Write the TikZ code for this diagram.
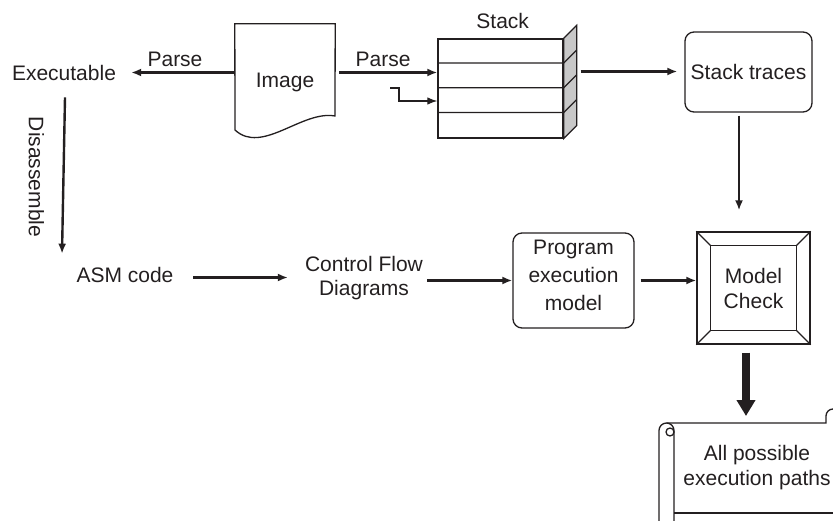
\documentclass[tikz,border=0pt]{standalone}
\usepackage{fontspec}
\setmainfont{Liberation Sans}
\usetikzlibrary{arrows.meta}
\definecolor{ink}{HTML}{231F20}
\definecolor{sidegray}{HTML}{C8C8C8}
\begin{document}
\begin{tikzpicture}[x=1pt,y=1pt,
  txt/.style={font=\fontsize{21}{25}\selectfont, text=ink, inner sep=2pt, align=center},
  box/.style={draw=ink, line width=1.3pt},
  arr/.style={draw=ink, line width=2.4pt, -{Latex[length=10pt,width=8pt]}},
  thinarr/.style={draw=ink, line width=1.2pt, -{Latex[length=10pt,width=7.5pt]}},
  bigarr/.style={draw=ink, line width=8pt, -{Triangle[length=16pt,width=18pt]}},
  rbox/.style={box, rounded corners=9pt, inner sep=0pt},
]
\useasboundingbox (0,0) rectangle (833,-521);
\clip (0,0) rectangle (833,-521);

% ---- top row: image, executable, stack, stack traces
\node[txt] (exe) at (64,-72.5) {Executable};

\node[minimum width=100pt, minimum height=106pt, inner sep=0pt] (img) at (285,-77) {};
\draw[box] (img.north west) -- (img.north east) -- (335,-116)
  .. controls (302,-110) and (262,-155) .. (235,-130) -- cycle;
\node[txt] (imglabel) at (285,-82) {Image};

\node[box, minimum width=125pt, minimum height=99pt, inner sep=0pt] (stack) at (500.5,-88.5) {};
\filldraw[box, fill=sidegray] (stack.north east) -- ++(13,13)
  -- ([shift={(13pt,13pt)}]stack.south east) -- (stack.south east) -- cycle;
\foreach \k in {1,2,3}{
  \draw[box] ([yshift=-\k*24.75pt]stack.north west) -- ([yshift=-\k*24.75pt]stack.north east) -- ++(13,13);
}
\node[txt] (stacklabel) at (502.7,-21) {Stack};

\node[rbox, txt, inner sep=0pt, minimum width=127pt, minimum height=80pt] (st) at (748.5,-72) {Stack traces};

% parse arrows
\draw[arr, shorten >=13pt] (img.west |- exe.east) -- (exe.east);
\node[txt] (parse1) at (175,-59) {Parse};
\draw[arr, shorten <=4pt] (img.east |- 0,-72.5) -- ([yshift=16pt]stack.west);
\node[txt] (parse2) at (383,-59) {Parse};

\coordinate (feed) at (390,-88);
\draw[thinarr] (feed) -- ++(9,0) |- ([yshift=-12.5pt]stack.west);

\coordinate (sidegap) at ([xshift=17pt,yshift=17pt]stack.east);
\draw[arr, shorten >=7pt] (sidegap) -- (st.west |- sidegap);

% ---- lower row
\node[txt] (asm) at (125,-275) {ASM code};
\node[txt, font=\fontsize{21}{24.5}\selectfont] (cfd) at (364,-278) {Control Flow\\Diagrams};

\node[rbox, minimum width=121pt, minimum height=95pt] (pem) at (573.5,-280.5) {};
\node[txt, font=\fontsize{21}{28}\selectfont] (pemtext) at (573.5,-275.5) {Program\\execution\\model};

\node[box, txt, inner sep=0pt, minimum width=113pt, minimum height=112pt] (mc) at (753.5,-288) {Model\\Check};
\draw[box] ([shift={(14pt,-14pt)}]mc.north west) rectangle ([shift={(-14pt,14pt)}]mc.south east);
\draw[box] (mc.north west) -- ++(14,-14);
\draw[box] (mc.north east) -- ++(-14,-14);
\draw[box] (mc.south west) -- ++(14,14);
\draw[box] (mc.south east) -- ++(-14,14);

% disassemble
\draw[arr] ([shift={(1pt,-15pt)}]exe.south) -- ([shift={(-63pt,11.4pt)}]asm.north);
\node[txt, rotate=-90] (dislabel) at (36.5,-177) {Disassemble};

\draw[arr, shorten <=17.5pt, shorten >=15pt] ([yshift=-2.5pt]asm.east) -- ([yshift=-2.5pt]asm.east -| cfd.west);
\draw[arr, shorten <=2pt] (cfd.east |- pem.west) -- (pem.west);
\draw[arr, shorten <=6pt] (pem.east) -- (mc.west |- pem.east);
\draw[arr, shorten >=24pt] ([shift={(-9.5pt,-3pt)}]st.south) -- ([shift={(-9.5pt,-3pt)}]st.south |- mc.north);

% ---- result scroll
\coordinate (scrolltop) at (746,-416);
\draw[bigarr] ([shift={(-7.5pt,-8pt)}]mc.south) -- (scrolltop);

\draw[box] (659,-521) -- (659,-430.5) arc[start angle=180, end angle=0, radius=7.5pt] -- (674,-521);
\draw[box] (670,-432) circle[radius=4pt];
\draw[box] (666.5,-423) -- (826,-423) -- (826,-416) arc[start angle=180, end angle=90, radius=7pt];
\draw[box] (674,-513) -- (833,-513);
\node[txt] (paths) at (757,-468) {All possible\\execution paths};
\end{tikzpicture}
\end{document}
